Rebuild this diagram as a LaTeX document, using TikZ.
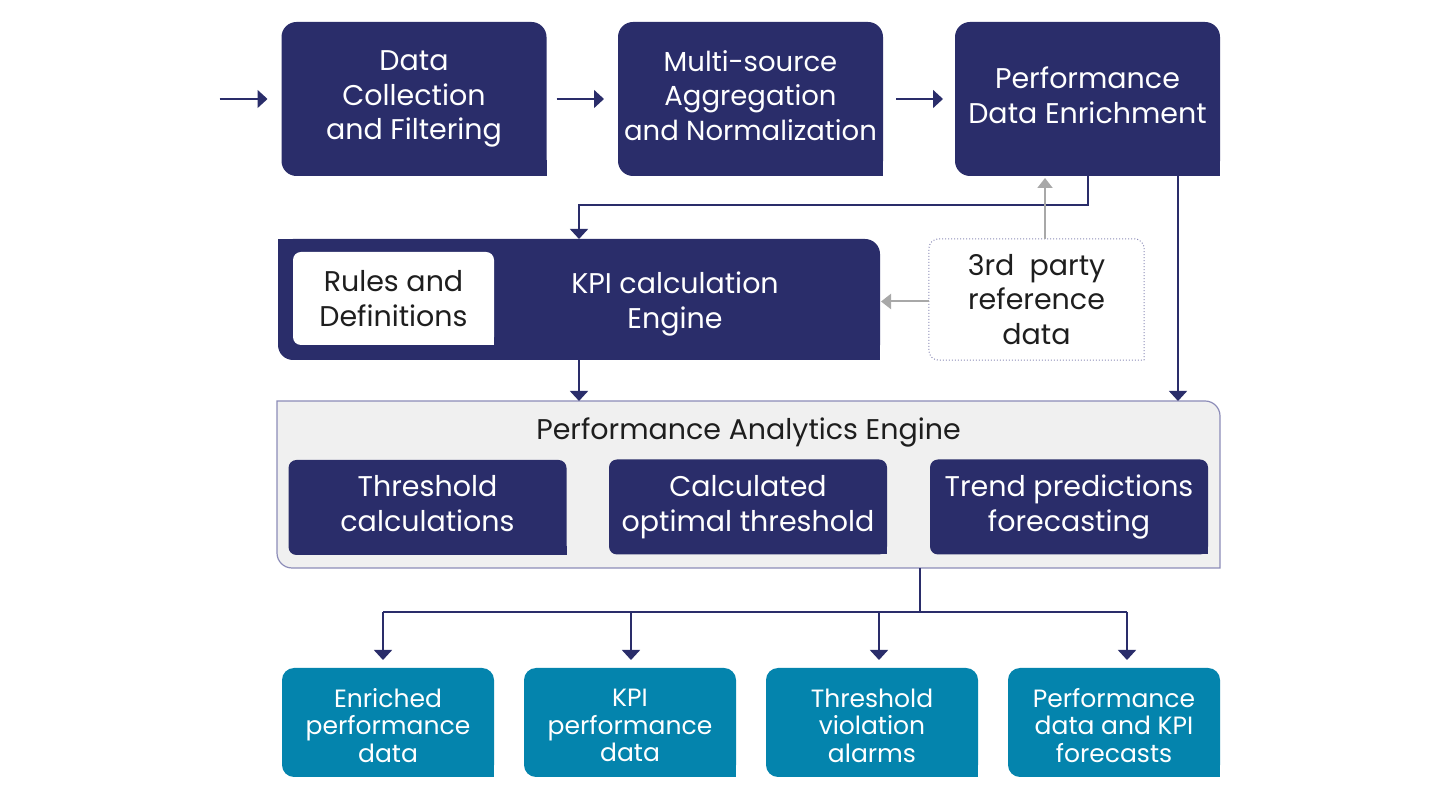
\documentclass[tikz,border=0pt]{standalone}
\usepackage{fontspec}
\setmainfont{Poppins}
\usetikzlibrary{arrows.meta,backgrounds}
\definecolor{navy}{HTML}{2A2D6A}
\definecolor{teal}{HTML}{0484AD}
\definecolor{grayarrow}{HTML}{A8A8A8}
\definecolor{paefill}{HTML}{F0F0F0}
\definecolor{lavender}{HTML}{8C8CB8}
\definecolor{darktext}{HTML}{1E1E1E}
\newcommand\bigfs{\fontsize{28.5}{34.5}\selectfont}
\newcommand\midfs{\fontsize{27.5}{34.5}\selectfont}
\newcommand\smallfs{\fontsize{25}{27.5}\selectfont}
\begin{document}
\begin{tikzpicture}[x=1pt,y=1pt,
  base/.style={inner sep=0pt, outer sep=0pt, align=center, text=white, font=\bigfs},
  topbox/.style={base, minimum width=265pt, minimum height=154pt},
  innerbox/.style={base, minimum width=278pt, minimum height=95pt},
  outbox/.style={base, minimum width=212pt, minimum height=109pt},
  outtext/.style={base, font=\smallfs},
  darklabel/.style={inner sep=0pt, align=center, text=darktext, font=\bigfs},
  navyline/.style={draw=navy, line width=1.5pt},
  navyarrow/.style={navyline, -{Triangle[width=18pt,length=10pt]}},
  grayarrowst/.style={draw=grayarrow, line width=2pt, -{Triangle[width=15pt,length=10pt]}}
]
\useasboundingbox (0,0) rectangle (1440,800);

% top row
\node[topbox] (b1) at (414,701) {Data\\Collection\\and Filtering};
\node[topbox, font=\midfs] (b2) at (750.5,701) {Multi-source\\Aggregation\\and Normalization\vphantom{g}};
\node[topbox] (b3) at (1087.5,701) {Performance\\Data Enrichment\vphantom{g}};

% KPI engine
\node[base, minimum width=602pt, minimum height=121pt] (kpi) at (579,500.5) {};
\node[base, minimum width=201pt, minimum height=93pt, text=darktext] (rules) at (393.5,501.5) {Rules and\\Definitions};
\node[base] (kpitext) at (675,496) {KPI calculation\\Engine};

% third party
\node[darklabel, minimum width=215pt, minimum height=121pt] (third) at (1036.5,500.5) {3rd\ \ party\\reference\\data};

% analytics engine
\node[inner sep=0pt, outer sep=0pt, minimum width=943pt, minimum height=167pt] (pae) at (748.5,315.5) {};
\node[darklabel] (paetitle) at (748.5,368) {Performance Analytics Engine};
\node[innerbox] (i1) at (427.5,292.5) {Threshold\\calculations\vphantom{g}};
\node[innerbox] (i2) at (748,293) {Calculated\\optimal threshold};
\node[innerbox] (i3) at (1069,293) {Trend predictions\\forecasting};

% outputs
\node[outbox] (o1) at (388,77.5) {};
\node[outbox] (o2) at (630,77.5) {};
\node[outbox] (o3) at (872,77.5) {};
\node[outbox] (o4) at (1114,77.5) {};
\node[outtext] (o1t) at ([yshift=-3]o1.center) {Enriched\\performance\\data};
\node[outtext] (o2t) at ([yshift=-3]o2.center) {KPI\\performance\\data};
\node[outtext] (o3t) at ([yshift=-3]o3.center) {Threshold\\violation\\alarms};
\node[outtext] (o4t) at ([yshift=-3]o4.center) {Performance\\data and KPI\\forecasts};

% backgrounds
\begin{scope}[on background layer]
  \fill[white] (0,0) rectangle (1440,800);
  % boxes with TL, TR, BL rounded and BR sharp
  \foreach \n/\c/\r in {b1/navy/15,b2/navy/15,b3/navy/15,o1/teal/12,o2/teal/12,o3/teal/12,o4/teal/12}{
    \fill[\c, rounded corners=\r] (\n.south west) rectangle (\n.north east);
    \fill[\c] (\n.south east) rectangle ++(-\r-1,\r+1);
  }
  % KPI box: TR and BL rounded
  \fill[navy, rounded corners=15] (kpi.south west) rectangle (kpi.north east);
  \fill[navy] (kpi.south east) rectangle ++(-16,16);
  \fill[navy] (kpi.north west) rectangle ++(16,-16);
  % Rules box
  \fill[white, rounded corners=8] (rules.south west) rectangle (rules.north east);
  \fill[white] (rules.south east) rectangle ++(-9,9);
  % analytics engine box
  \draw[fill=paefill, draw=lavender, line width=1.2pt]
    (pae.north west) -- ([xshift=-15]pae.north east)
    arc[start angle=90, end angle=0, radius=15]
    -- (pae.south east) -- ([xshift=15]pae.south west)
    arc[start angle=270, end angle=180, radius=15] -- cycle;
  \foreach \n in {i1,i2,i3}{
    \fill[navy, rounded corners=8] (\n.south west) rectangle (\n.north east);
    \fill[navy] (\n.south east) rectangle ++(-9,9);
  }
  % third party box
  \draw[draw=lavender, line width=1pt, dotted]
    (third.south east) -- ([yshift=-10]third.north east)
    arc[start angle=0, end angle=90, radius=10]
    -- ([xshift=10]third.north west)
    arc[start angle=90, end angle=180, radius=10]
    -- ([yshift=10]third.south west)
    arc[start angle=180, end angle=270, radius=10] -- cycle;
\end{scope}

% top row connectors
\coordinate (in) at ([xshift=-62]b1.west);
\draw[navyarrow] (in) -- ([xshift=-14]b1.west);
\draw[navyarrow] ([xshift=10]b1.east) -- ([xshift=-14]b2.west);
\draw[navyarrow] ([xshift=13]b2.east) -- ([xshift=-12]b3.west);

% enrichment to KPI
\draw[navyarrow] ([xshift=0.5]b3.south) -- ++(0,-29) -| (kpi.north);
% enrichment to analytics
\draw[navyarrow] ([xshift=-42]b3.south east) -- ([xshift=-42]b3.south east |- pae.north);
% KPI to analytics
\draw[navyarrow] (kpi.south) -- (kpi.south |- pae.north);

% third party connectors
\draw[grayarrowst, shorten >=2pt] ([xshift=8.5]third.north) -- ([xshift=8.5]third.north |- b3.south);
\draw[grayarrowst, shorten >=1pt] ([yshift=-2]third.west) -- ([yshift=-2]third.west -| kpi.east);

% analytics to outputs
\coordinate (split) at (920,188);
\coordinate (d1) at (383,188);
\coordinate (d2) at (631,188);
\coordinate (d3) at (879,188);
\coordinate (d4) at (1127,188);
\draw[navyline] (pae.south -| split) -- (split);
\draw[navyline] (d1) -- (d4);
\foreach \i in {1,2,3,4}{
  \draw[navyarrow, shorten >=8pt] (d\i) -- (d\i |- o\i.north);
}
\end{tikzpicture}
\end{document}
